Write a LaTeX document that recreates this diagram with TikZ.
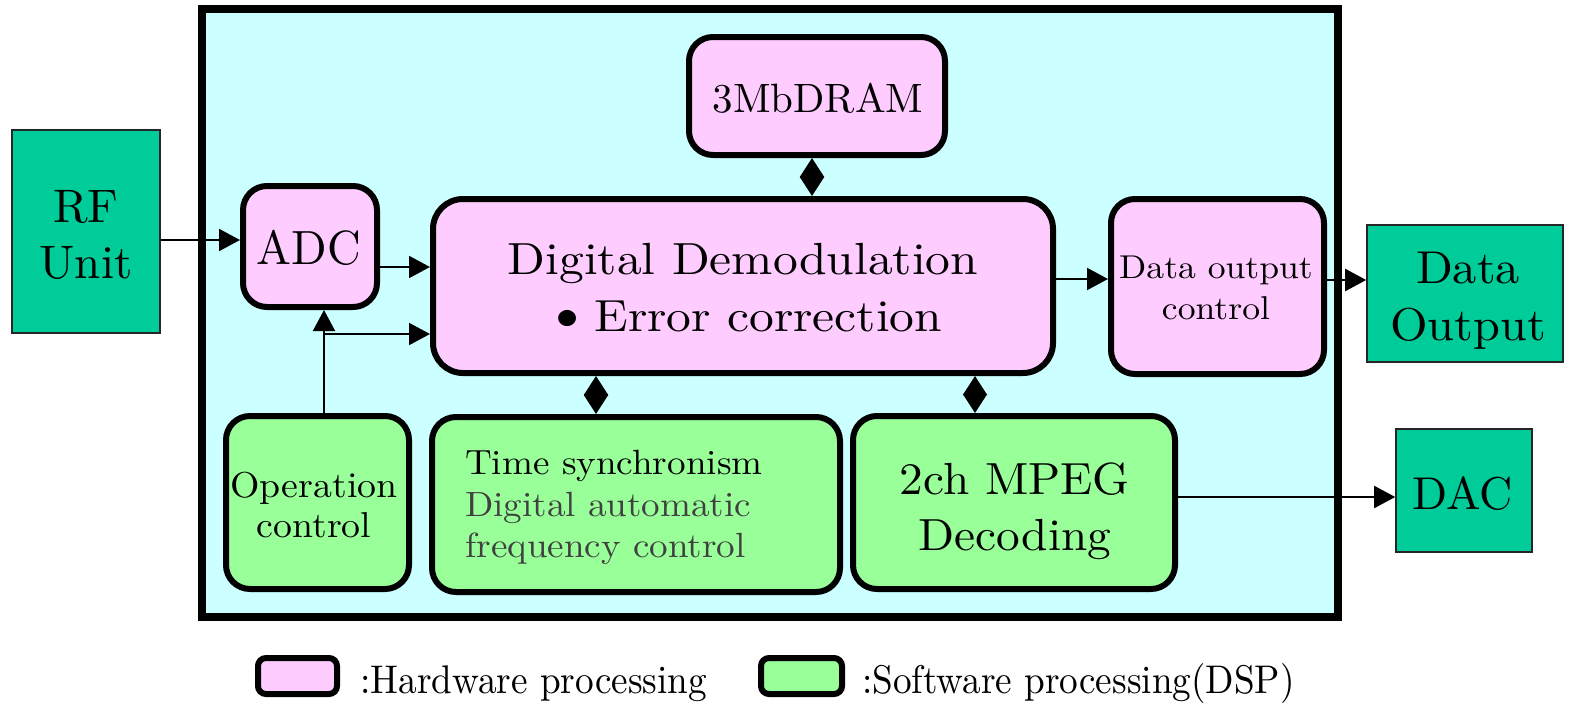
\documentclass[tikz,border=0pt]{standalone}
\usepackage{fontspec}
\usepackage{graphicx}
\setmainfont{lmroman10-regular.otf}
\usetikzlibrary{arrows.meta}
\definecolor{cyanbg}{RGB}{204,255,255}
\definecolor{pinkfill}{RGB}{255,204,255}
\definecolor{greenfill}{RGB}{153,255,153}
\definecolor{tealfill}{RGB}{0,204,153}
\definecolor{txtgray}{RGB}{64,64,64}
\newcommand\lmf[3]{\fontspec{lmroman10-regular.otf}[FakeStretch=#1]\fontsize{#2}{#3}\selectfont}
\tikzset{
 hw/.style={draw, line width=6pt, fill=pinkfill, rounded corners=24pt, inner sep=0pt},
 sw/.style={draw, line width=6pt, fill=greenfill, rounded corners=24pt, inner sep=0pt},
 ext/.style={draw=black!85, line width=1.6pt, fill=tealfill, inner sep=0pt},
 txt/.style={inner sep=0pt, align=center},
 arr/.style={line width=2pt, -{Triangle[length=21pt,width=22pt]}},
 biarr/.style={line width=2pt, {Triangle[length=19pt,width=24pt]}-{Triangle[length=19pt,width=24pt]}},
}
\begin{document}
\begin{tikzpicture}[x=1pt,y=-1pt]
\useasboundingbox (0,0) rectangle (1572,707);
% outer board
\node[draw, line width=8pt, fill=cyanbg, minimum width=1136, minimum height=608, inner sep=0pt] (board) at (770,313) {};
% external units
\node[ext, minimum width=148, minimum height=203] (rf) at (86,231.5) {};
\node[txt, font=\lmf{1.0}{47}{56}] (rft) at (86,235) {RF\\Unit};
\node[ext, minimum width=196, minimum height=137] (dout) at (1465,293.5) {};
\node[txt, font=\lmf{1.05}{46}{57}] (doutt) at (1468,300.3) {Data\\Output};
\node[ext, minimum width=136, minimum height=123] (dac) at (1464,490.5) {};
\node[txt, font=\lmf{1.0}{46}{50}] (dact) at (1463,493.3) {DAC};
% hardware blocks
\node[hw, minimum width=134, minimum height=121] (adc) at (310,246.5) {};
\node[txt, font=\lmf{0.97}{48}{50}] (adct) at (309,247.6) {ADC};
\node[hw, minimum width=620, minimum height=174, rounded corners=30pt] (dd) at (743,286) {};
\node[txt, font=\lmf{1.1}{45}{57}] (ddt) at (743,288) {Digital Demodulation\\\scalebox{1.25}{\textbullet}\kern-14pt\ Error correction};
\node[hw, minimum width=256, minimum height=118] (dram) at (817,96) {};
\node[txt, font=\lmf{1.0}{41}{45}] (dramt) at (818,98.7) {3MbDRAM};
\node[hw, minimum width=213, minimum height=175] (doc) at (1217.5,286.5) {};
\node[txt, font=\lmf{1.08}{33}{41}] (doct) at (1216,288.3) {Data output\\control};
% software blocks
\node[sw, minimum width=183, minimum height=173] (oc) at (317.5,502.5) {};
\node[txt, font=\lmf{1.05}{36}{40}] (oct) at (314,504.7) {Operation\\control};
\node[sw, minimum width=408, minimum height=175] (ts) at (636,504.5) {};
\node[inner sep=0pt, anchor=west, align=left, font=\lmf{1.06}{35}{41.5}] (tst) at (465,507.7) {Time synchronism\\{\color{txtgray}Digital automatic}\\{\color{txtgray}frequency control}};
\node[sw, minimum width=322, minimum height=173] (mpeg) at (1014,502.5) {};
\node[txt, font=\lmf{1.05}{45}{56}] (mpegt) at (1015,510.8) {2ch MPEG\\Decoding};
% helper coordinates
\coordinate (c240) at (0,240);
\coordinate (c267) at (0,267);
\coordinate (c334) at (0,334);
\coordinate (ax) at (324,0);
\coordinate (c279) at (0,279);
\coordinate (c280) at (0,280);
\coordinate (c497) at (0,497);
\coordinate (c812) at (812,0);
\coordinate (c596) at (596,0);
\coordinate (c975) at (975,0);
% connectors
\draw[arr] (rf.east |- c240) -- (adc.west |- c240);
\draw[arr] (adc.east |- c267) -- (dd.west |- c267);
\draw[arr] (oc.north -| ax) -- (adc.south -| ax);
\draw[arr] (ax |- c334) -- (dd.west |- c334);
\draw[arr] (dd.east |- c279) -- (doc.west |- c279);
\draw[arr] (doc.east |- c280) -- (dout.west |- c280);
\draw[arr] (mpeg.east |- c497) -- (dac.west |- c497);
\draw[biarr] (dram.south -| c812) -- (dd.north -| c812);
\draw[biarr] (dd.south -| c596) -- (ts.north -| c596);
\draw[biarr] (dd.south -| c975) -- (mpeg.north -| c975);
% legend
\node[hw, rounded corners=8pt, minimum width=79, minimum height=36] (lhw) at (297.5,676) {};
\node[anchor=base west, inner sep=0pt, font=\lmf{0.93}{40}{44}] (lhwt) at (360,693) {:Hardware processing};
\node[sw, rounded corners=8pt, minimum width=81, minimum height=36] (lsw) at (801.5,676) {};
\node[anchor=base west, inner sep=0pt, font=\lmf{0.93}{40}{44}] (lswt) at (862,693) {:Software processing(DSP)};
\end{tikzpicture}
\end{document}
